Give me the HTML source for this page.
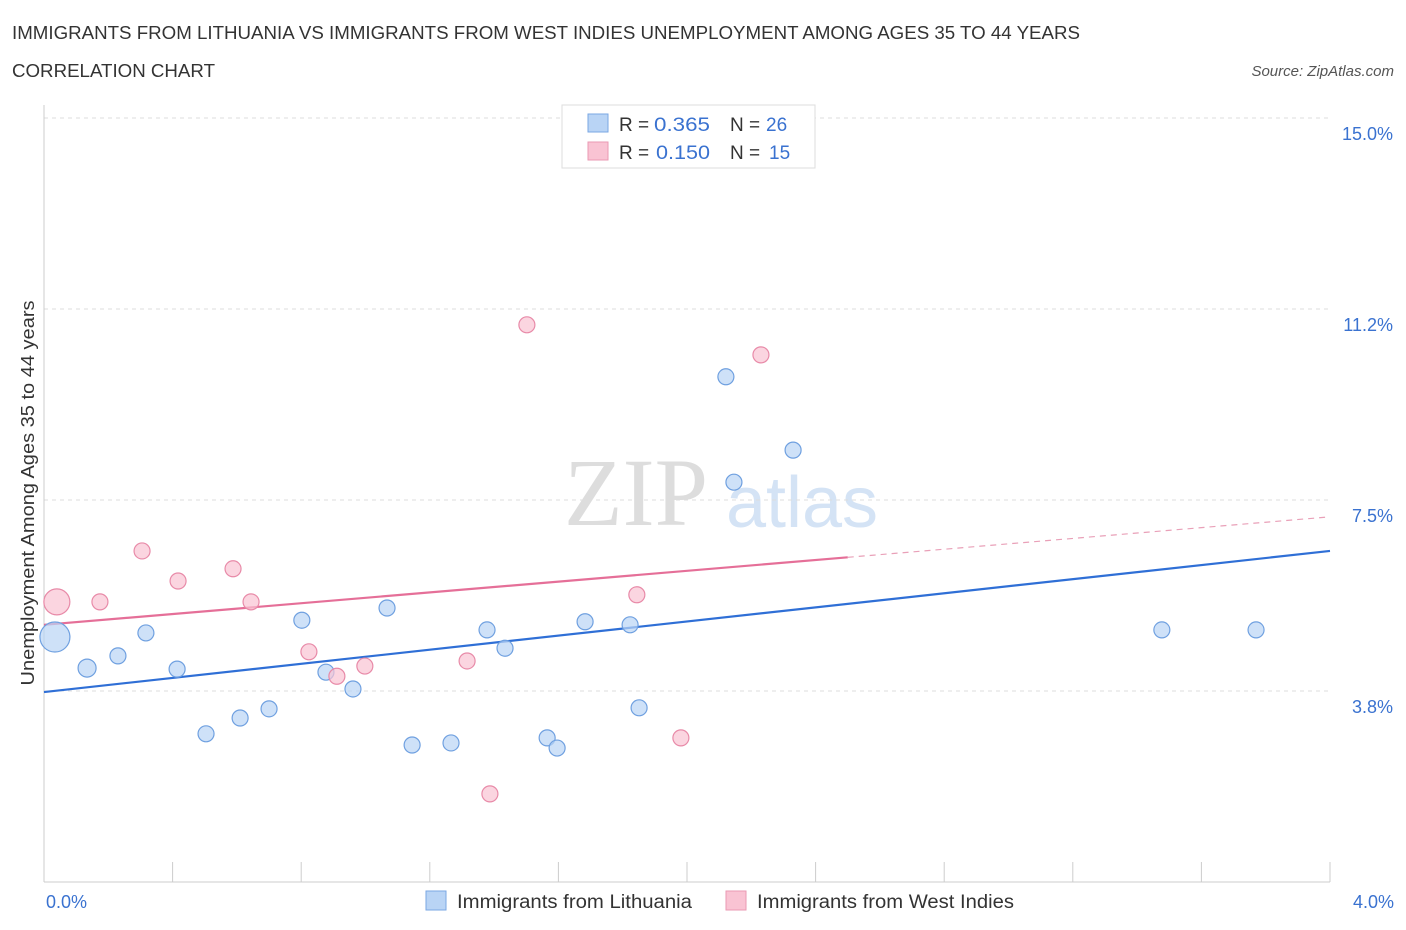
<!DOCTYPE html>
<html><head><meta charset="utf-8"><style>
body{margin:0;background:#fff;font-family:"Liberation Sans",sans-serif}
svg{display:block}
</style></head><body>
<svg id="c" width="1406" height="930" xmlns="http://www.w3.org/2000/svg">
<text x="12" y="39" font-size="18" fill="#333" textLength="1068" lengthAdjust="spacingAndGlyphs">IMMIGRANTS FROM LITHUANIA VS IMMIGRANTS FROM WEST INDIES UNEMPLOYMENT AMONG AGES 35 TO 44 YEARS</text>
<text x="12" y="77" font-size="18" fill="#333" textLength="203" lengthAdjust="spacingAndGlyphs">CORRELATION CHART</text>
<text x="1394" y="76" font-size="15" fill="#555" font-style="italic" text-anchor="end">Source: ZipAtlas.com</text>
<text x="636" y="525" font-size="96" fill="#ddd" font-family="Liberation Serif,serif" text-anchor="middle">ZIP</text>
<text x="802" y="527" font-size="72" fill="#d4e3f5" text-anchor="middle">atlas</text>
<g id="grid"></g><g id="axes"></g><g id="lines"></g><g id="pts"></g>
<text x="34" y="493" font-size="18" fill="#333" text-anchor="middle" textLength="385" lengthAdjust="spacingAndGlyphs" transform="rotate(-90 34 493)">Unemployment Among Ages 35 to 44 years</text>
<text x="46" y="908" font-size="18" fill="#3a72d0">0.0%</text>
<text x="1394" y="908" font-size="18" fill="#3a72d0" text-anchor="end">4.0%</text>
<g>
<rect x="562" y="105" width="253" height="63" fill="#fff" stroke="#ddd"/>
<rect x="588" y="114" width="20" height="18" fill="#b9d4f5" stroke="#7aa7e3"/>
<rect x="588" y="142" width="20" height="18" fill="#f9c3d3" stroke="#ea9ab3"/>
<text x="619" y="131" font-size="19" fill="#333">R =</text>
<text x="654" y="131" font-size="19" fill="#3a72d0" textLength="56" lengthAdjust="spacingAndGlyphs">0.365</text>
<text x="730" y="131" font-size="19" fill="#333">N =</text>
<text x="766" y="131" font-size="19" fill="#3a72d0">26</text>
<text x="619" y="159" font-size="19" fill="#333">R =</text>
<text x="656" y="159" font-size="19" fill="#3a72d0" textLength="54" lengthAdjust="spacingAndGlyphs">0.150</text>
<text x="730" y="159" font-size="19" fill="#333">N =</text>
<text x="769" y="159" font-size="19" fill="#3a72d0">15</text>
</g>
<g>
<rect x="426" y="891" width="20" height="19" fill="#b9d4f5" stroke="#7aa7e3"/>
<text x="457" y="908" font-size="19" fill="#333" textLength="235" lengthAdjust="spacingAndGlyphs">Immigrants from Lithuania</text>
<rect x="726" y="891" width="20" height="19" fill="#f9c3d3" stroke="#ea9ab3"/>
<text x="757" y="908" font-size="19" fill="#333" textLength="257" lengthAdjust="spacingAndGlyphs">Immigrants from West Indies</text>
</g>
</svg>
<script>
const yTicks=[3.75,7.5,11.25,15];
const yTickLabels=["3.8%","7.5%","11.2%","15.0%"];
const xTicks=[0,0.4,0.8,1.2,1.6,2,2.4,2.8,3.2,3.6,4];
const blueX=[0.034,0.134,0.230,0.317,0.414,0.504,0.610,0.700,0.802,0.877,0.961,1.067,1.145,1.266,1.378,1.434,1.565,1.596,1.683,1.823,1.851,2.121,2.146,2.330,3.477,3.770];
const blueY=[4.81,4.20,4.44,4.89,4.18,2.91,3.22,3.40,5.14,4.12,3.79,5.38,2.69,2.73,4.95,4.59,2.83,2.63,5.11,5.05,3.42,9.92,7.85,8.48,4.95,4.95];
const blueR=[15,9,8,8,8,8,8,8,8,8,8,8,8,8,8,8,8,8,8,8,8,8,8,8,8,8];
const pinkX=[0.040,0.174,0.305,0.417,0.588,0.644,0.824,0.911,0.998,1.316,1.387,1.502,1.844,1.981,2.230];
const pinkY=[5.50,5.50,6.50,5.91,6.15,5.50,4.52,4.04,4.24,4.34,1.73,10.94,5.64,2.83,10.35];
const pinkR=[13,8,8,8,8,8,8,8,8,8,8,8,8,8,8];
const blueTrend=[3.73,6.50];
const pinkTrend=[5.05,7.17];
const pinkSolidEnd=2.5;
const NS="http://www.w3.org/2000/svg";
const xs=v=>44+v*321.5, ys=v=>882-v*50.93;
function mk(t,a,p){const e=document.createElementNS(NS,t);for(const k in a)e.setAttribute(k,a[k]);document.getElementById(p).appendChild(e);return e;}
yTicks.forEach((t,i)=>{
 const l=mk('line',{x1:44,x2:1330,y1:ys(t),y2:ys(t),stroke:'#ddd','stroke-dasharray':'4,4'},'grid');
 
 
 const tx=mk('text',{x:1393,y:ys(t)+22,'font-size':18,fill:'#3a72d0','text-anchor':'end'},'grid');
 tx.textContent=yTickLabels[i];
 
 
});
const ya=mk('line',{x1:44,x2:44,y1:105,y2:882,stroke:'#ccc'},'axes');


const xa=mk('line',{x1:44,x2:1330,y1:882,y2:882,stroke:'#ccc'},'axes');


xTicks.forEach(t=>{
 const l=mk('line',{x1:xs(t),x2:xs(t),y1:862,y2:882,stroke:'#ccc'},'axes');
 
 
});
let b=mk('line',{x1:xs(0),y1:ys(blueTrend[0]),x2:xs(4),y2:ys(blueTrend[1]),stroke:'#2f6fd6','stroke-width':2.2},'lines');


const pm=pinkTrend[0]+(pinkTrend[1]-pinkTrend[0])*pinkSolidEnd/4;
let p=mk('line',{x1:xs(0),y1:ys(pinkTrend[0]),x2:xs(pinkSolidEnd),y2:ys(pm),stroke:'#e56f98','stroke-width':2.2},'lines');


let pd=mk('line',{x1:xs(pinkSolidEnd),y1:ys(pm),x2:xs(4),y2:ys(pinkTrend[1]),stroke:'#e9a0b8','stroke-width':1.2,'stroke-dasharray':'6,5'},'lines');


blueX.forEach((x,i)=>{
 const c=mk('circle',{cx:xs(x),cy:ys(blueY[i]),r:blueR[i],fill:'rgba(185,212,245,0.7)',stroke:'#6fa0e0','stroke-width':1.2},'pts');
 
 
});
pinkX.forEach((x,i)=>{
 const c=mk('circle',{cx:xs(x),cy:ys(pinkY[i]),r:pinkR[i],fill:'rgba(249,195,211,0.7)',stroke:'#e88aa8','stroke-width':1.2},'pts');
 
 
});
</script>
</body></html>
